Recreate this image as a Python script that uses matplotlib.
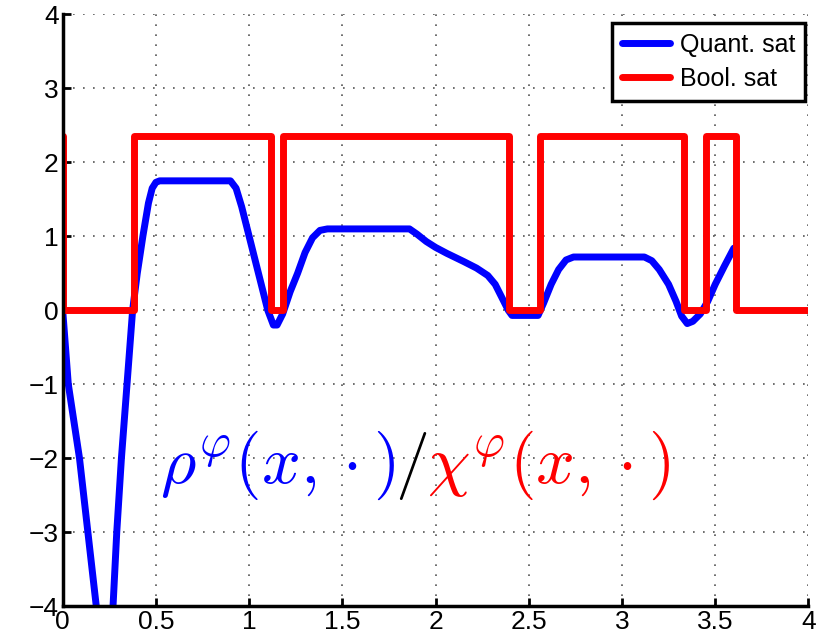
import matplotlib
matplotlib.use('Agg')
import matplotlib.pyplot as plt
from matplotlib.transforms import offset_copy

plt.rcParams['font.family'] = ['Liberation Sans', 'DejaVu Sans']
plt.rcParams['mathtext.fontset'] = 'cm'

# Quantitative satisfaction (blue)
quant_x = [0.0, 0.03, 0.09, 0.135, 0.18, 0.225, 0.27, 0.29, 0.315, 0.345, 0.375,
           0.40, 0.43, 0.46, 0.48, 0.5, 0.52, 0.9, 0.93, 0.96, 1.0, 1.05, 1.1,
           1.13, 1.15, 1.18, 1.22, 1.26, 1.3, 1.34, 1.38, 1.42,
           1.86, 1.9, 1.95, 2.0, 2.06, 2.15, 2.22, 2.28, 2.32, 2.36, 2.39, 2.41,
           2.55, 2.58, 2.62, 2.66, 2.70, 2.74, 3.12, 3.16, 3.2, 3.25, 3.29, 3.32,
           3.35, 3.38, 3.42, 3.46, 3.5, 3.55, 3.6]
quant_y = [0.0, -1.0, -2.0, -3.0, -4.0, -5.0, -4.0, -3.0, -2.0, -1.0, 0.0,
           0.5, 1.0, 1.45, 1.65, 1.73, 1.75, 1.75, 1.65, 1.4, 1.0, 0.5, 0.0,
           -0.2, -0.2, -0.05, 0.25, 0.5, 0.78, 0.98, 1.08, 1.1,
           1.1, 1.03, 0.93, 0.85, 0.77, 0.66, 0.57, 0.47, 0.35, 0.15, 0.0, -0.07,
           -0.07, 0.1, 0.35, 0.55, 0.68, 0.72, 0.72, 0.67, 0.55, 0.35, 0.12, -0.08,
           -0.18, -0.15, -0.05, 0.12, 0.35, 0.6, 0.84]

# Boolean satisfaction (red): switch points and levels
bool_x = [0.0, 0.0, 0.38, 0.38, 1.12, 1.12, 1.18, 1.18, 2.395, 2.395, 2.56, 2.56,
          3.33, 3.33, 3.45, 3.45, 3.61, 3.61, 4.0]
bool_y = [2.35, 0.0, 0.0, 2.35, 2.35, 0.0, 0.0, 2.35, 2.35, 0.0, 0.0, 2.35,
          2.35, 0.0, 0.0, 2.35, 2.35, 0.0, 0.0]

fig = plt.figure(figsize=(8.36, 6.43), dpi=100)
ax = fig.add_axes([0.075, 0.0575, 0.892, 0.92])

ax.plot(quant_x, quant_y, color='#0000ff', lw=5, label='Quant. sat',
        solid_joinstyle='round', solid_capstyle='round')
ax.plot(bool_x, bool_y, color='#ff0000', lw=5, label='Bool. sat',
        solid_joinstyle='round', solid_capstyle='round')

ax.set_xlim(0, 4)
ax.set_ylim(-4, 4)
ax.set_xticks([0, 0.5, 1, 1.5, 2, 2.5, 3, 3.5, 4])
ax.set_xticklabels(['0', '0.5', '1', '1.5', '2', '2.5', '3', '3.5', '4'])
ax.set_yticks([-4, -3, -2, -1, 0, 1, 2, 3, 4])
ax.set_yticklabels(['\u22124', '\u22123', '\u22122', '\u22121', '0', '1', '2', '3', '4'])
ax.tick_params(direction='in', length=6, width=2, labelsize=19, pad=3)
ax.grid(True, linestyle=(0, (1, 5)), color='#555555', linewidth=1.2)
for s in ['top', 'right']:
    ax.spines[s].set_visible(False)
for s in ['left', 'bottom']:
    ax.spines[s].set_linewidth(2.5)

leg = ax.legend(loc='upper right', bbox_to_anchor=(0.999, 0.99), fontsize=18,
                fancybox=False, framealpha=1, handlelength=1.9, borderpad=0.4,
                labelspacing=0.4, handletextpad=0.4, borderaxespad=0.1)
leg.get_frame().set_edgecolor('black')
leg.get_frame().set_linewidth(2.5)

# big label built from three coloured pieces
fig.canvas.draw()
r = fig.canvas.get_renderer()
t1 = ax.text(0.52, -2.1, r'$\rho^\varphi(x,\cdot)$', color='#0000ff', fontsize=49, va='center')
w1 = t1.get_window_extent(r).width
t2 = ax.text(0.52, -2.1, r'$/$', color='black', fontsize=49, va='center',
             transform=offset_copy(ax.transData, fig=fig, x=w1, y=0, units='dots'))
w2 = t2.get_window_extent(r).width
ax.text(0.52, -2.1, r'$\chi^\varphi(x,\cdot)$', color='#ff0000', fontsize=49, va='center',
        transform=offset_copy(ax.transData, fig=fig, x=w1 + w2, y=0, units='dots'))

fig.savefig('out.png', dpi=100)
